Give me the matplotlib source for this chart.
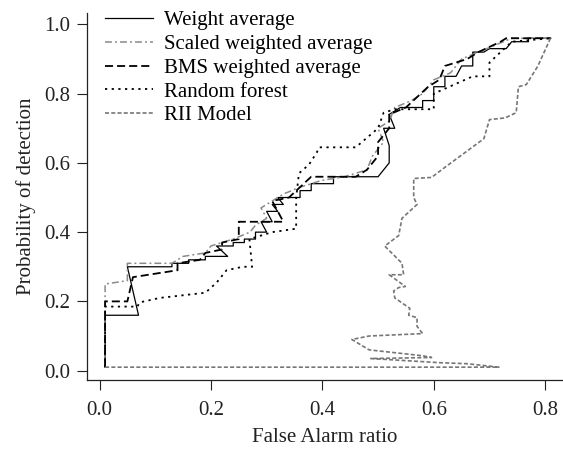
import matplotlib
matplotlib.use("Agg")
import matplotlib.pyplot as plt

plt.rcParams['font.family'] = ['Liberation Serif', 'DejaVu Serif']
plt.rcParams['lines.scale_dashes'] = False

# ROC-like curves (false alarm ratio, probability of detection)
wa_x = [0.01, 0.01, 0.07, 0.05, 0.13, 0.13, 0.16, 0.16, 0.19, 0.19, 0.23, 0.21, 0.24, 0.24, 0.26, 0.26,
        0.28, 0.28, 0.30, 0.29, 0.31, 0.30, 0.32, 0.31, 0.33, 0.32, 0.36, 0.36, 0.38, 0.38, 0.42, 0.42,
        0.50, 0.51, 0.52, 0.52, 0.51, 0.53, 0.52, 0.54, 0.58, 0.58, 0.60, 0.60, 0.62, 0.62, 0.64, 0.65,
        0.67, 0.67, 0.69, 0.70, 0.73, 0.74, 0.77, 0.77, 0.81]
wa_y = [0.01, 0.16, 0.16, 0.30, 0.30, 0.31, 0.31, 0.32, 0.32, 0.33, 0.33, 0.36, 0.36, 0.37, 0.37, 0.38,
        0.38, 0.40, 0.40, 0.43, 0.43, 0.46, 0.46, 0.48, 0.48, 0.50, 0.50, 0.52, 0.52, 0.54, 0.54, 0.56,
        0.56, 0.58, 0.60, 0.65, 0.70, 0.70, 0.74, 0.76, 0.76, 0.78, 0.78, 0.82, 0.82, 0.85, 0.85, 0.88,
        0.88, 0.92, 0.92, 0.93, 0.93, 0.95, 0.95, 0.96, 0.96]

swa_x = [0.01, 0.01, 0.05, 0.05, 0.13, 0.15, 0.19, 0.20, 0.24, 0.27, 0.28, 0.30, 0.29, 0.31, 0.33,
         0.36, 0.40, 0.44, 0.48, 0.49, 0.51, 0.50, 0.52, 0.53, 0.56, 0.58, 0.60, 0.63, 0.65, 0.68,
         0.71, 0.74, 0.81]
swa_y = [0.01, 0.25, 0.26, 0.31, 0.31, 0.33, 0.34, 0.36, 0.38, 0.40, 0.42, 0.44, 0.47, 0.49, 0.51,
         0.53, 0.55, 0.56, 0.58, 0.62, 0.66, 0.70, 0.72, 0.76, 0.78, 0.80, 0.84, 0.86, 0.90, 0.92,
         0.94, 0.96, 0.96]

bms_x = [0.01, 0.01, 0.05, 0.06, 0.10, 0.14, 0.14, 0.18, 0.19, 0.22, 0.22, 0.25, 0.25, 0.33, 0.31,
         0.34, 0.36, 0.38, 0.46, 0.48, 0.50, 0.50, 0.52, 0.52, 0.55, 0.57, 0.59, 0.61, 0.62, 0.66,
         0.68, 0.72, 0.73, 0.81]
bms_y = [0.01, 0.20, 0.20, 0.27, 0.28, 0.29, 0.31, 0.32, 0.34, 0.35, 0.37, 0.38, 0.43, 0.43, 0.49,
         0.50, 0.53, 0.56, 0.56, 0.58, 0.62, 0.66, 0.70, 0.74, 0.76, 0.79, 0.82, 0.84, 0.88, 0.90,
         0.92, 0.95, 0.96, 0.96]

rf_x = [0.01, 0.01, 0.068, 0.072, 0.108, 0.19, 0.21, 0.228, 0.257, 0.274, 0.269, 0.31, 0.353,
        0.353, 0.358, 0.376, 0.39, 0.394, 0.46, 0.50, 0.51, 0.53, 0.60, 0.60, 0.67, 0.70, 0.70,
        0.72, 0.74, 0.81]
rf_y = [0.01, 0.185, 0.185, 0.197, 0.21, 0.225, 0.254, 0.29, 0.30, 0.30, 0.38, 0.40, 0.41,
        0.50, 0.57, 0.595, 0.63, 0.645, 0.645, 0.70, 0.745, 0.755, 0.755, 0.80, 0.85, 0.85, 0.89,
        0.92, 0.95, 0.96]

rii_x = [0.01, 0.717, 0.66, 0.61, 0.487, 0.596, 0.58, 0.484, 0.453, 0.484, 0.58, 0.57, 0.57,
         0.555, 0.557, 0.53, 0.528, 0.537, 0.549, 0.52, 0.546, 0.543, 0.512, 0.537, 0.543, 0.57,
         0.564, 0.564, 0.596, 0.614, 0.69, 0.70, 0.728, 0.748, 0.752, 0.766, 0.787, 0.81]
rii_y = [0.01, 0.01, 0.02, 0.023, 0.035, 0.038, 0.043, 0.06, 0.09, 0.10, 0.107, 0.128, 0.153,
         0.16, 0.18, 0.21, 0.23, 0.24, 0.243, 0.277, 0.277, 0.31, 0.36, 0.39, 0.44, 0.48,
         0.50, 0.555, 0.558, 0.58, 0.67, 0.725, 0.73, 0.745, 0.82, 0.826, 0.88, 0.962]

labels = ["Weight average", "Scaled weighted average", "BMS weighted average",
          "Random forest", "RII Model"]

fig = plt.figure(figsize=(5.63, 4.49), dpi=100)
ax = fig.add_axes([0.155, 0.1537, 0.845, 0.8174])

ax.plot(wa_x, wa_y, color='black', lw=0.9, label=labels[0])
ax.plot(swa_x, swa_y, color='#8a8a8a', lw=1.1, dashes=(5, 2.2, 1.4, 2.2), label=labels[1])
ax.plot(bms_x, bms_y, color='black', lw=1.3, dashes=(5.8, 2.9), label=labels[2])
ax.plot(rf_x, rf_y, color='black', lw=1.3, dashes=(1.6, 3.2), label=labels[3])
ax.plot(rii_x, rii_y, color='#767676', lw=1.2, dashes=(2.9, 1.6), label=labels[4])

ax.set_xlim(-0.022, 0.832)
ax.set_ylim(-0.027, 1.033)
ax.set_xticks([0.0, 0.2, 0.4, 0.6, 0.8])
ax.set_yticks([0.0, 0.2, 0.4, 0.6, 0.8, 1.0])
ax.set_xticklabels(["0.0", "0.2", "0.4", "0.6", "0.8"])
ax.set_yticklabels(["0.0", "0.2", "0.4", "0.6", "0.8", "1.0"])
ax.tick_params(direction='out', length=7, width=0.8, labelsize=15, colors='#222222')
ax.tick_params(axis='y', pad=5)
ax.tick_params(axis='x', pad=8)
ax.spines['top'].set_visible(False)
ax.spines['right'].set_visible(False)
for s in ['left', 'bottom']:
    ax.spines[s].set_linewidth(0.9)
    ax.spines[s].set_color('#222222')

ax.set_xlabel("False Alarm ratio", fontsize=15, color='#222222', labelpad=6)
ax.set_ylabel("Probability of detection", fontsize=15, color='#222222', labelpad=6)

ax.legend(loc='upper left', bbox_to_anchor=(0.186, 0.976), bbox_transform=fig.transFigure,
          frameon=False, fontsize=15, handlelength=2.3, handletextpad=0.55,
          labelspacing=0.2, borderpad=0, borderaxespad=0)

fig.savefig("out.png", dpi=100)
